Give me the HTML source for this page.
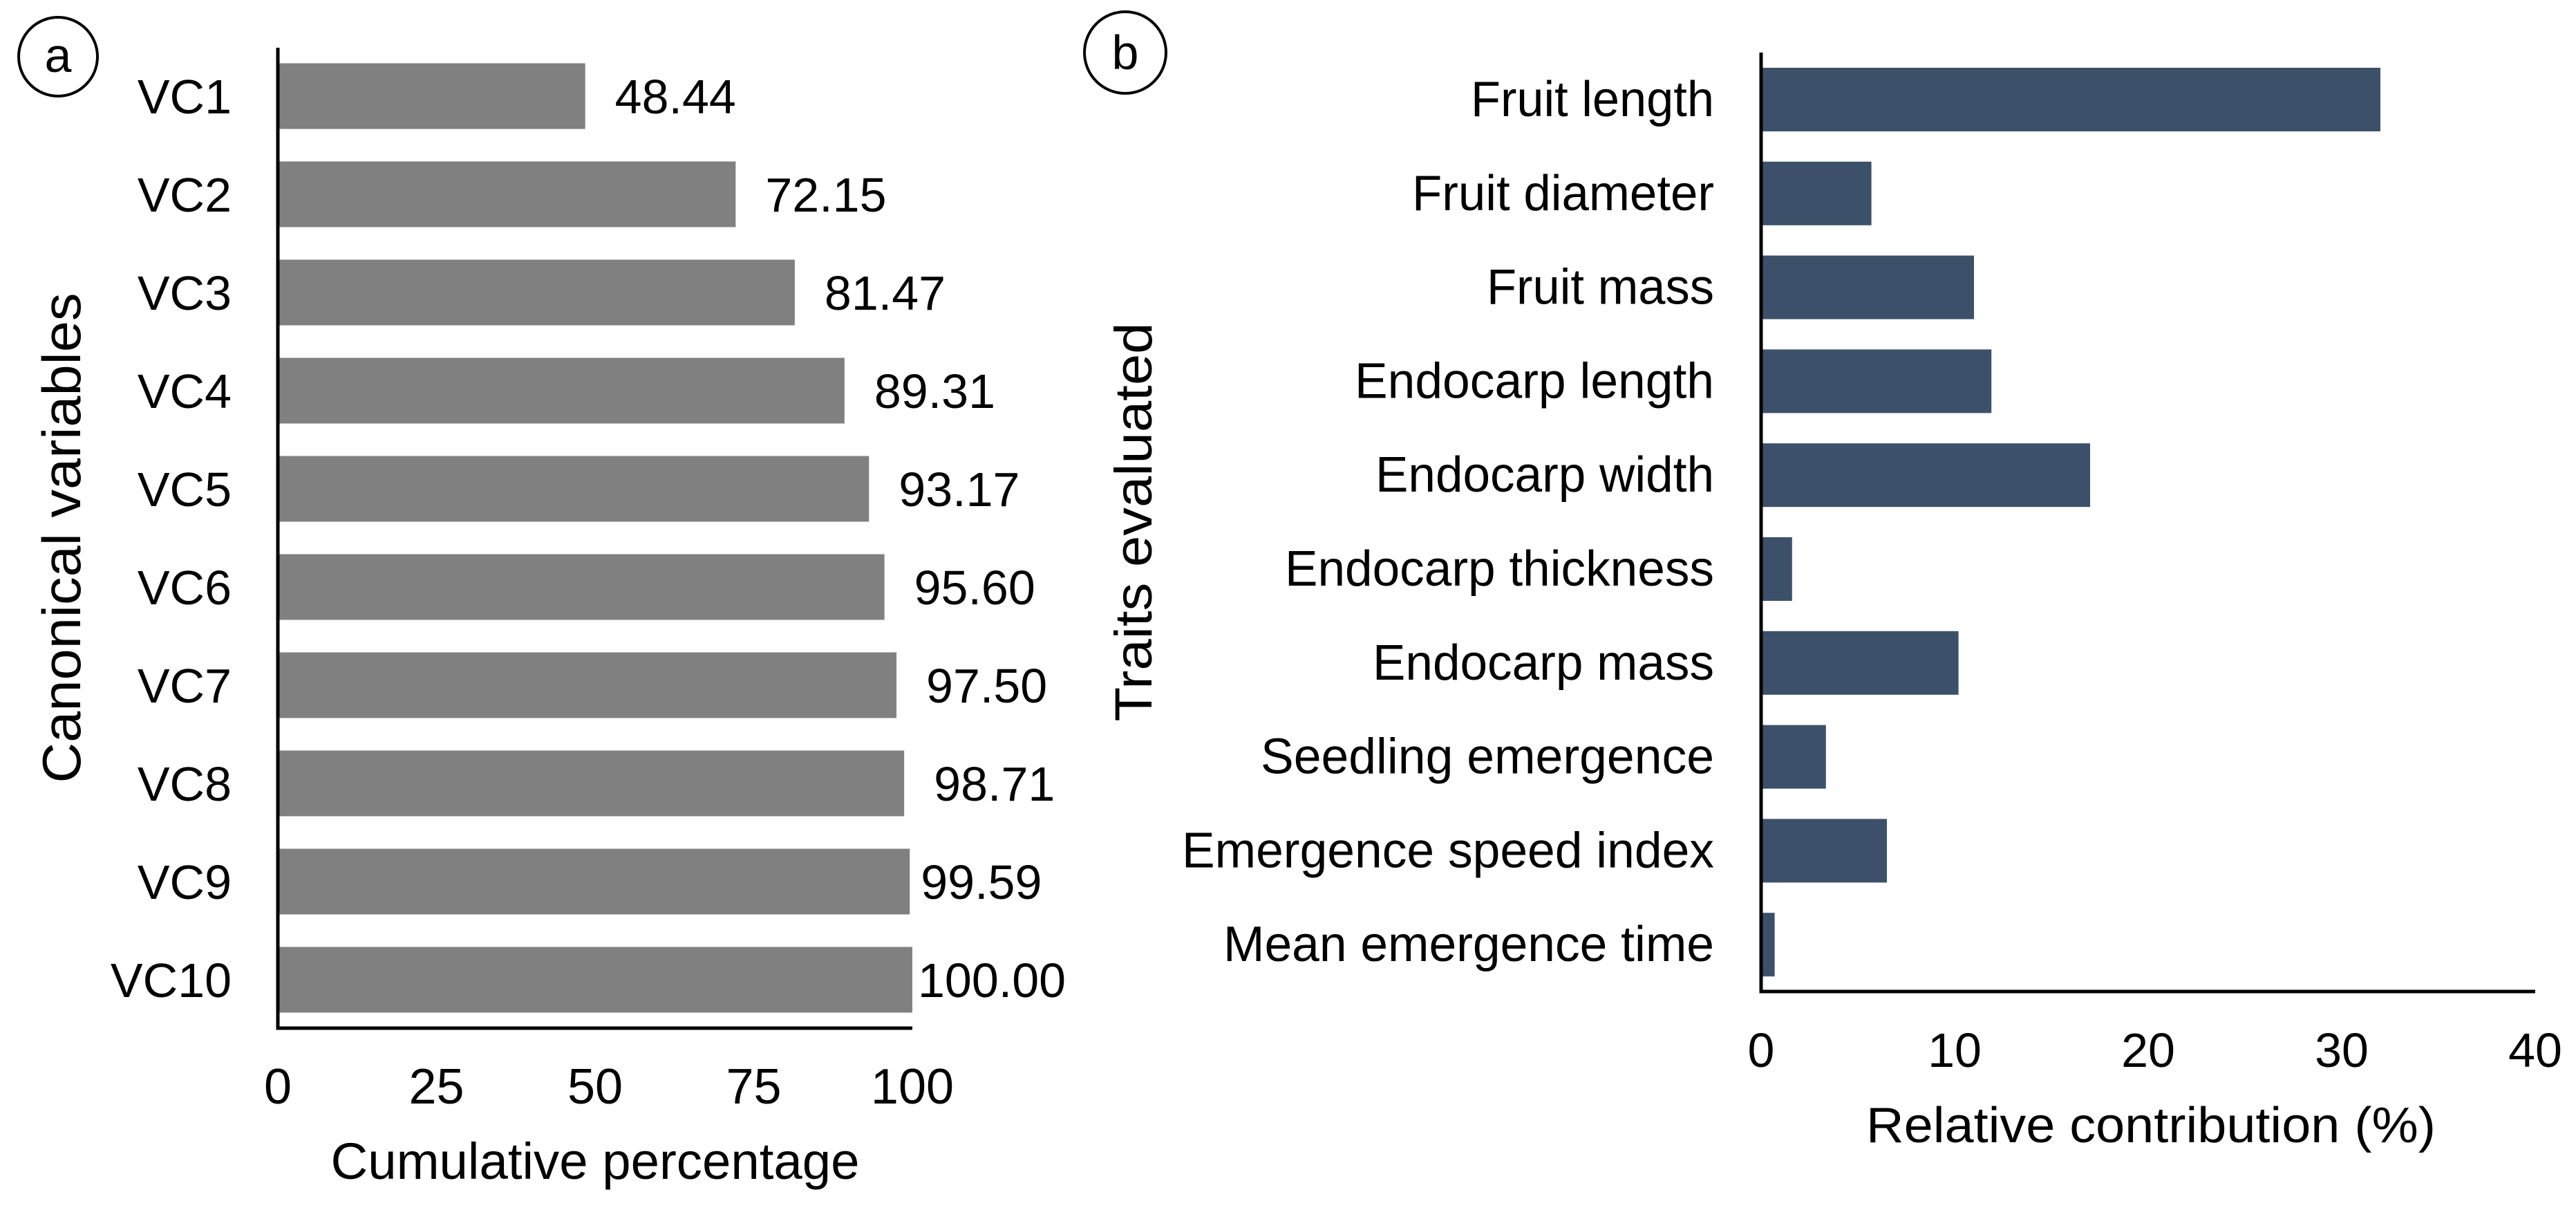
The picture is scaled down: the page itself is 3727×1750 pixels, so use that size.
<!DOCTYPE html>
<html><head><meta charset="utf-8"><style>
html,body{margin:0;padding:0;background:#fff;}
svg{display:block;font-family:"Liberation Sans",Arial,sans-serif;}
</style></head><body>
<svg id="chart" width="3727" height="1750" viewBox="0 0 3727 1750" xmlns="http://www.w3.org/2000/svg">
<g id="pa"></g>
<g id="pb"></g>
</svg>
<script>
const catsA = ["VC1","VC2","VC3","VC4","VC5","VC6","VC7","VC8","VC9","VC10"];
const valsA = [48.44,72.15,81.47,89.31,93.17,95.60,97.50,98.71,99.59,100.00];
const labelsA = ["48.44","72.15","81.47","89.31","93.17","95.60","97.50","98.71","99.59","100.00"];
const ticksA = [0,25,50,75,100];
const catsB = ["Fruit length","Fruit diameter","Fruit mass","Endocarp length","Endocarp width","Endocarp thickness","Endocarp mass","Seedling emergence","Emergence speed index","Mean emergence time"];
const valsB = [32.0,5.7,11.0,11.9,17.0,1.6,10.2,3.35,6.5,0.7];
const ticksB = [0,10,20,30,40];

const NS="http://www.w3.org/2000/svg";
function mk(parent,tag,attrs,text){const e=document.createElementNS(NS,tag);for(const k in attrs)e.setAttribute(k,attrs[k]);if(text!==undefined)e.textContent=text;parent.appendChild(e);return e;}

// Panel A
const pa=document.getElementById('pa');
const ax0=402, ax1=1320, aTop=69, aBot=1487, aBar0=91.5, aPitch=142, aH=95;
const xA=v=>ax0+(v/100)*(ax1-ax0);
const yA=i=>aBar0+i*aPitch;
catsA.forEach((c,i)=>{
  const r=mk(pa,'rect',{x:xA(0),y:yA(i),width:xA(valsA[i])-xA(0),height:aH,fill:'#808080'});
  
  
  const t=mk(pa,'text',{x:335,y:yA(i)+aH/2+25,'text-anchor':'end','font-size':70,fill:'#000'},c);
  
  
  const bx=xA(valsA[i]);
  const lx=valsA[i]>=99.9?bx+8:(valsA[i]>=99.5?bx+16:bx+43);
  const v=mk(pa,'text',{x:lx,y:yA(i)+aH/2+25,'font-size':70,fill:'#000'},labelsA[i]);
  
  
});
let l=mk(pa,'path',{d:`M${ax0} ${aTop} V${aBot} H${ax1}`,stroke:'#000','stroke-width':5,fill:'none'});


ticksA.forEach(tv=>{
  const t=mk(pa,'text',{x:xA(tv),y:1596,'text-anchor':'middle','font-size':72,fill:'#000'},String(tv));
  
  
});
l=mk(pa,'text',{x:861,y:1705,'text-anchor':'middle','font-size':74,textLength:765,lengthAdjust:'spacingAndGlyphs',fill:'#000'},'Cumulative  percentage');


l=mk(pa,'text',{x:0,y:0,'text-anchor':'middle','font-size':78,textLength:709,lengthAdjust:'spacingAndGlyphs',fill:'#000',transform:'translate(116,778) rotate(-90)'},'Canonical variables');


l=mk(pa,'ellipse',{cx:84,cy:82,rx:57,ry:57,fill:'none',stroke:'#000','stroke-width':4});


l=mk(pa,'text',{x:84,y:104,'text-anchor':'middle','font-size':70,fill:'#000'},'a');



// Panel B
const pb=document.getElementById('pb');
const bx0=2548, bx1=3668, bTop=76, bBot=1434, bBar0=98, bPitch=135.8, bH=92;
const xB=v=>bx0+(v/40)*(bx1-bx0);
const yB=i=>bBar0+i*bPitch;
const lblW=[352,437,329,520,490,621,494,656,770,710];
catsB.forEach((c,i)=>{
  const r=mk(pb,'rect',{x:xB(0),y:yB(i),width:xB(valsB[i])-xB(0),height:bH,fill:'#3c5169'});
  
  
  const t=mk(pb,'text',{x:2480,y:yB(i)+bH/2+24,'text-anchor':'end','font-size':72,textLength:lblW[i],lengthAdjust:'spacingAndGlyphs',fill:'#000'},c);
  
  
});
l=mk(pb,'path',{d:`M${bx0} ${bTop} V${bBot} H${bx1}`,stroke:'#000','stroke-width':5,fill:'none'});


ticksB.forEach(tv=>{
  const t=mk(pb,'text',{x:xB(tv),y:1543,'text-anchor':'middle','font-size':70,fill:'#000'},String(tv));
  
  
});
l=mk(pb,'text',{x:3112,y:1652,'text-anchor':'middle','font-size':72,textLength:824,lengthAdjust:'spacingAndGlyphs',fill:'#000'},'Relative contribution (%)');


l=mk(pb,'text',{x:0,y:0,'text-anchor':'middle','font-size':76,textLength:577,lengthAdjust:'spacingAndGlyphs',fill:'#000',transform:'translate(1666,755) rotate(-90)'},'Traits  evaluated');


l=mk(pb,'ellipse',{cx:1628,cy:76,rx:59,ry:59,fill:'none',stroke:'#000','stroke-width':4});


l=mk(pb,'text',{x:1628,y:100,'text-anchor':'middle','font-size':70,fill:'#000'},'b');


</script>
</body></html>
